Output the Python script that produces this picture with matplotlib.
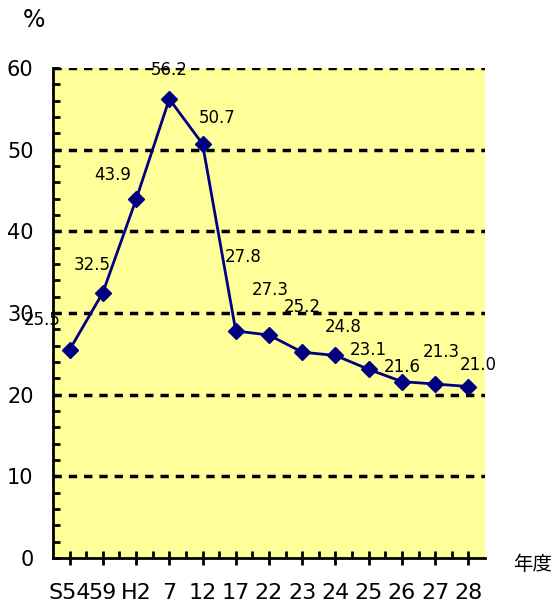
import matplotlib.pyplot as plt
from matplotlib.ticker import MultipleLocator, FixedLocator
import numpy as np

plt.rcParams['font.family'] = ['DejaVu Sans', 'Noto Sans CJK JP']

years = ['S54', '59', 'H2', '7', '12', '17', '22', '23', '24', '25', '26', '27', '28']
rate = [25.5, 32.5, 43.9, 56.2, 50.7, 27.8, 27.3, 25.2, 24.8, 23.1, 21.6, 21.3, 21.0]
labels = ['25.5', '32.5', '43.9', '56.2', '50.7', '27.8', '27.3', '25.2', '24.8', '23.1', '21.6', '21.3', '21.0']

# label offsets in pixels (dx, dy) from each point
offs = [(-27, 30), (-11, 28), (-23, 24), (0, 29), (15, 26), (7, 74), (1, 45),
        (0, 45), (8, 28), (0, 19), (0, 15), (6, 32), (10, 22)]

fig = plt.figure(figsize=(5.54, 6.08), dpi=100)
ax = fig.add_axes([53 / 554, 1 - 558 / 608, 432 / 554, 490 / 608])
ax.set_facecolor('#FFFF99')

x = np.arange(len(years))
ax.set_xlim(-0.5, len(years) - 0.5)
ax.set_ylim(0, 60)

ax.yaxis.set_major_locator(MultipleLocator(10))
ax.yaxis.set_minor_locator(MultipleLocator(2))
ax.xaxis.set_major_locator(FixedLocator(x))
ax.xaxis.set_minor_locator(FixedLocator(x[:-1] + 0.5))
ax.set_xticklabels(years)

for v in range(10, 61, 10):
    ax.axhline(v, color='black', lw=2.5, ls=(0, (2.4, 2.0)), zorder=1)

ax.plot(x, rate, color='#000080', lw=2, marker='D', ms=8.5, zorder=3)

for xi, yi, t, (dx, dy) in zip(x, rate, labels, offs):
    ax.annotate(t, (xi, yi), xytext=(dx, dy), textcoords='offset pixels',
                ha='center', va='center', fontsize=12, zorder=4)

for s in ['top', 'right']:
    ax.spines[s].set_visible(False)
for s in ['left', 'bottom']:
    ax.spines[s].set_linewidth(2)

ax.tick_params(axis='y', which='both', direction='in', length=5, width=2,
               labelsize=15, pad=14)
ax.tick_params(axis='x', which='major', direction='inout', length=10, width=2,
               labelsize=16, pad=13)
ax.tick_params(axis='x', which='minor', direction='in', length=5, width=2)

fig.text(34 / 554, 1 - 20 / 608, '%', fontsize=17, ha='center', va='center')
fig.text(533 / 554, 1 - 564 / 608, '年度', fontsize=14, ha='center', va='center')

fig.savefig('out.png', dpi=100)
